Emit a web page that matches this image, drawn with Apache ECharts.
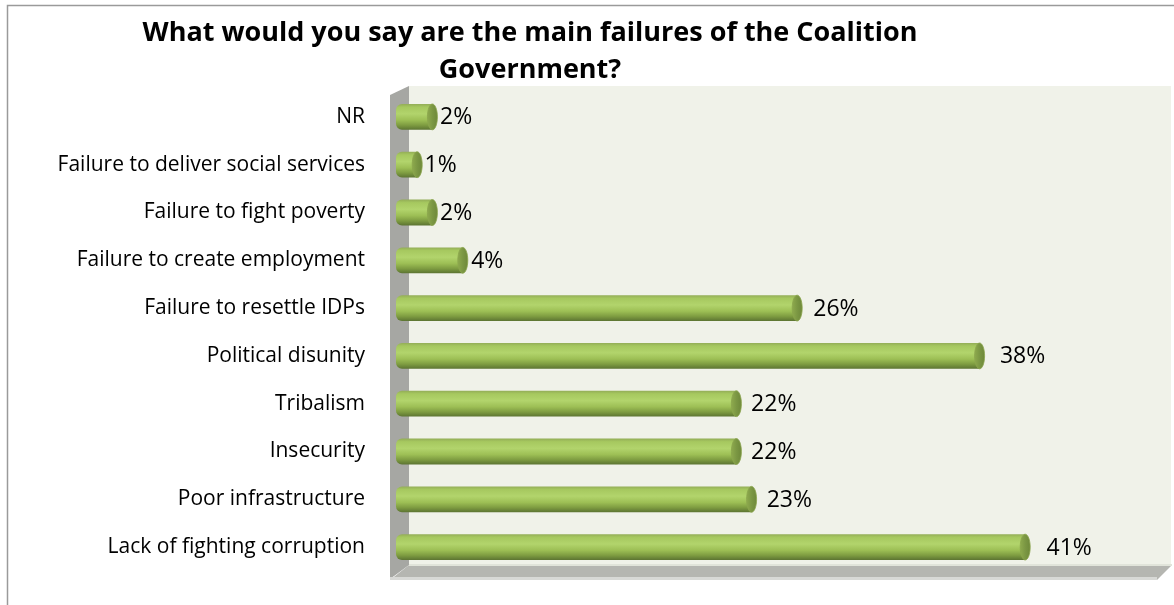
<!DOCTYPE html>
<html>
<head>
<meta charset="utf-8">
<script src="https://cdn.jsdelivr.net/npm/echarts@6/dist/echarts.min.js"></script>
<style>
  html, body { margin: 0; padding: 0; background: #ffffff; }
  #chart { width: 1174px; height: 605px; }
</style>
</head>
<body>
<div id="chart"></div>
<script>
// Survey answers, listed top to bottom
const categories = [
  'NR',
  'Failure to deliver social services',
  'Failure to fight poverty',
  'Failure to create employment',
  'Failure to resettle IDPs',
  'Political disunity',
  'Tribalism',
  'Insecurity',
  'Poor infrastructure',
  'Lack of fighting corruption'
];
const percentages = [2, 1, 2, 4, 26, 38, 22, 22, 23, 41];
const titleLines = [
  'What would you say are the main failures of the Coalition',
  'Government?'
];

const FONT = '"Open Sans", Lato, sans-serif';
const GRID = { left: 402, right: 12, top: 93, bottom: 34 };

const chart = echarts.init(document.getElementById('chart'), null, { renderer: 'canvas' });

// Cylinder body shading, top edge to bottom edge
const bodyGradient = new echarts.graphic.LinearGradient(0, 0, 0, 1, [
  { offset: 0.00, color: '#93ad57' },
  { offset: 0.12, color: '#a6c85f' },
  { offset: 0.38, color: '#b2d46c' },
  { offset: 0.62, color: '#9dbf55' },
  { offset: 0.82, color: '#7e9c41' },
  { offset: 1.00, color: '#5c7432' }
]);
const capGradient = new echarts.graphic.LinearGradient(0, 0, 1, 0, [
  { offset: 0, color: '#8fab4e' },
  { offset: 0.5, color: '#7b9743' },
  { offset: 1, color: '#6d8739' }
]);

function renderCylinder(params, api) {
  const value = api.value(0);
  const start = api.coord([0, api.value(1)]);
  const end = api.coord([value, api.value(1)]);
  const band = api.size([0, 1])[1];
  const h = band * 0.54;
  const y = start[1] - h / 2;
  const capRx = 5;
  return {
    type: 'group',
    children: [
      {
        type: 'rect',
        shape: { x: start[0] - 6, y: y, width: end[0] - start[0] + 6, height: h, r: [6, 0, 0, 6] },
        style: { fill: bodyGradient }
      },
      {
        type: 'ellipse',
        shape: { cx: end[0], cy: start[1], rx: capRx, ry: h / 2 },
        style: { fill: capGradient, stroke: '#8aa54d', lineWidth: 0.8 }
      },
      {
        type: 'text',
        style: {
          text: value + '%',
          x: end[0] + 7 + value * 0.35,
          y: start[1] + 1,
          verticalAlign: 'middle',
          align: 'left',
          fill: '#000000',
          font: '23px ' + FONT
        }
      }
    ]
  };
}

function wallGraphics() {
  const x0 = GRID.left;
  const top = 86;
  const floorTop = 565;
  const floorBottom = 579;
  const wallLeft = x0 - 12;
  const wallRight = 1171;
  return [
    // outer frame
    { type: 'rect', silent: true, z: 0,
      shape: { x: 7.5, y: 5.5, width: 1300, height: 700 },
      style: { fill: '#ffffff', stroke: '#9a9a9a', lineWidth: 1.5 } },
    // back wall
    { type: 'rect', silent: true, z: 1,
      shape: { x: x0 + 7, y: top, width: wallRight - x0 - 7, height: floorTop - top },
      style: { fill: '#f0f2e9' } },
    // side wall
    { type: 'polygon', silent: true, z: 1,
      shape: { points: [[wallLeft, top + 9], [x0 + 7, top], [x0 + 7, floorTop], [wallLeft, floorBottom]] },
      style: { fill: '#a6a7a3' } },
    // floor
    { type: 'polygon', silent: true, z: 1,
      shape: { points: [[wallLeft, floorBottom + 1], [x0 + 7, floorTop], [wallRight + 1, floorTop], [wallRight - 14, floorBottom + 1]] },
      style: { fill: '#b5b6b1' } },
    { type: 'rect', silent: true, z: 1,
      shape: { x: wallLeft, y: floorBottom - 2, width: wallRight - 14 - wallLeft, height: 3 },
      style: { fill: '#d8d9d6' } },
    { type: 'rect', silent: true, z: 1,
      shape: { x: x0 + 7, y: floorTop - 1, width: wallRight - x0 - 6, height: 2 },
      style: { fill: '#e1e4da' } },
    // title
    { type: 'text', silent: true, z: 5,
      style: {
        text: titleLines.join('\n'),
        x: 530, y: 15,
        align: 'center',
        verticalAlign: 'top',
        lineHeight: 37,
        fill: '#000000',
        font: 'bold 27px ' + FONT
      } }
  ];
}

chart.setOption({
  backgroundColor: '#ffffff',
  animation: false,
  grid: { left: GRID.left, right: GRID.right, top: GRID.top, bottom: GRID.bottom, containLabel: false },
  xAxis: {
    type: 'value', min: 0, max: 50, interval: 10,
    show: false
  },
  yAxis: {
    type: 'category',
    data: categories,
    inverse: true,
    axisLine: { show: false },
    axisTick: { show: false },
    splitLine: { show: false },
    axisLabel: { color: '#000000', fontSize: 21, fontFamily: FONT, margin: 37 },
    z: 10
  },
  graphic: wallGraphics(),
  series: [{
    type: 'custom',
    renderItem: renderCylinder,
    encode: { x: 0, y: 1 },
    data: percentages.map((v, i) => [v, i]),
    z: 10
  }]
});
</script>
</body>
</html>
